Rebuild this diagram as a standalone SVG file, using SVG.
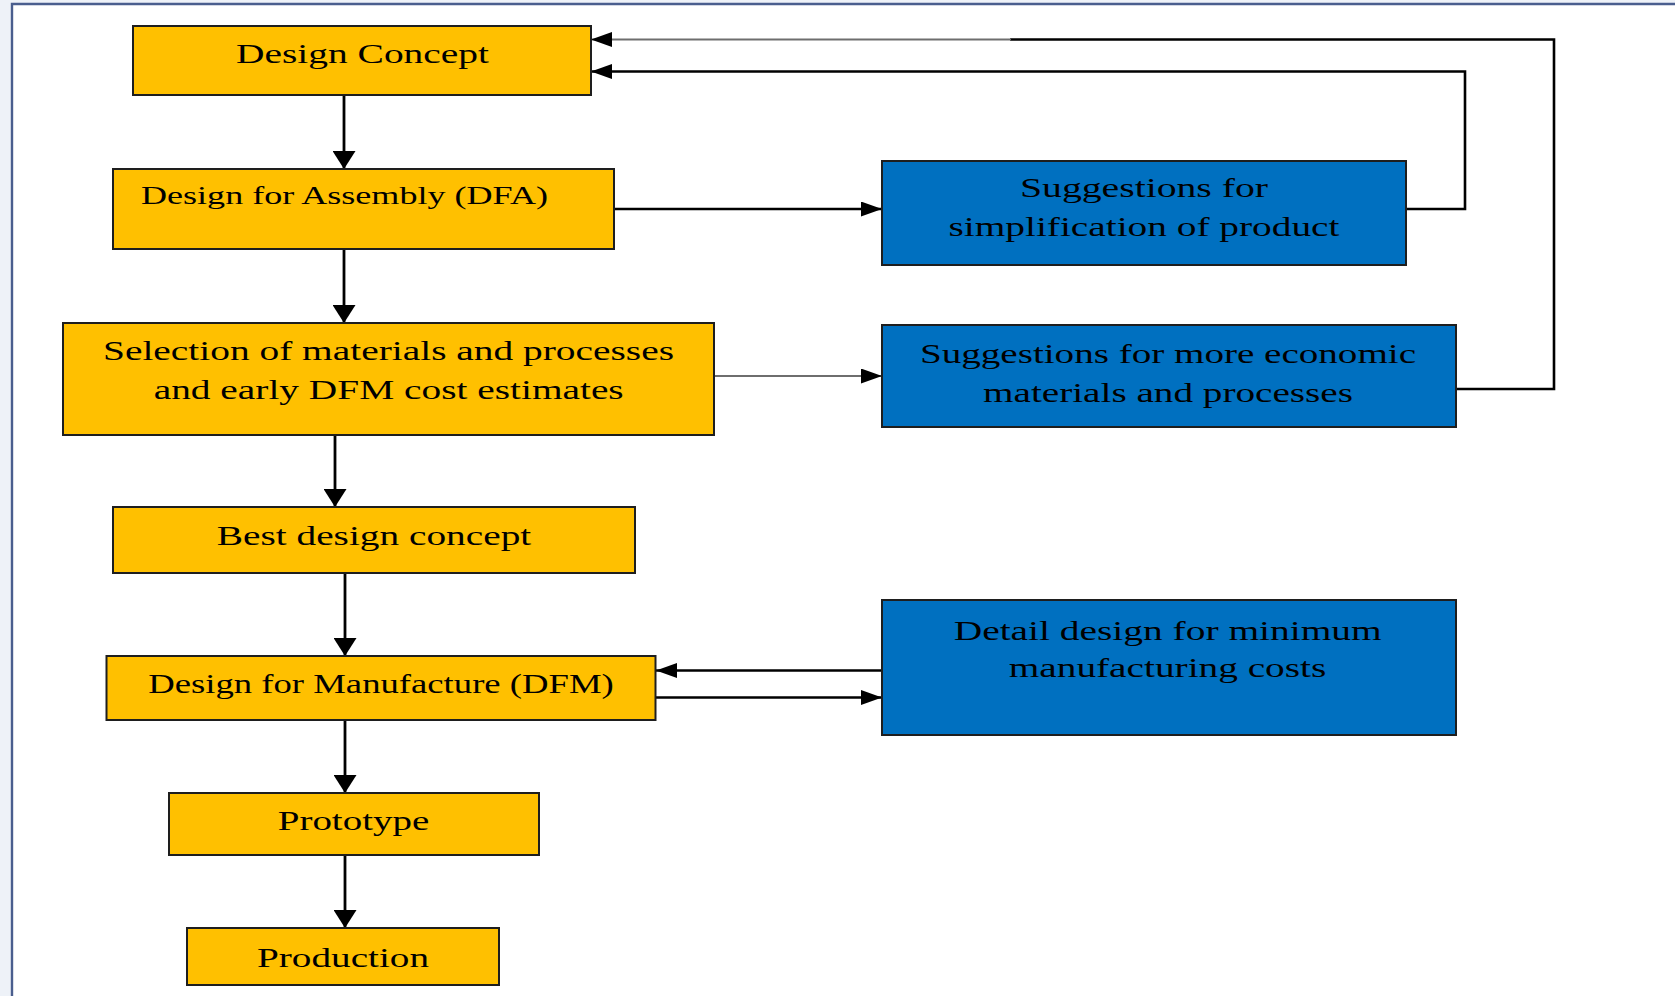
<svg xmlns="http://www.w3.org/2000/svg" width="1675" height="996" viewBox="0 0 1675 996">
<defs>
<style>
.frame{fill:#eef2f8}
.y{fill:#FFC000;stroke:#1e1e1e;stroke-width:2}
.b{fill:#0070C0;stroke:#1e1e1e;stroke-width:2}
.t{font-family:"Liberation Serif","Times New Roman",serif;font-size:28px;fill:#000;text-anchor:middle}
.cv{fill:none;stroke:#000;stroke-width:2.8}
.ch{fill:none;stroke:#000;stroke-width:2.6}
.cg{fill:none;stroke:#6e6e6e;stroke-width:2.2}
</style>
<marker id="ah" markerUnits="userSpaceOnUse" markerWidth="21" markerHeight="15" refX="21" refY="7.5" orient="auto"><path d="M0,0 L21,7.5 L0,15 Z" fill="#000"/></marker>
<marker id="av" markerUnits="userSpaceOnUse" markerWidth="18" markerHeight="23" refX="18" refY="11.5" orient="auto"><path d="M0,0 L18,11.5 L0,23 Z" fill="#000"/></marker>
</defs>
<rect width="1675" height="996" fill="#fff"/>
<rect class="frame" x="0" y="0" width="11" height="996"/>
<rect class="frame" x="0" y="0" width="1675" height="3"/>
<path d="M12,996 V4 H1675" fill="none" stroke="#4a5e8e" stroke-width="2.4"/>

<g id="connectors">
<path class="cv" d="M344,95 V169" marker-end="url(#av)"/>
<path class="cv" d="M344,249 V323" marker-end="url(#av)"/>
<path class="cv" d="M335,435 V507" marker-end="url(#av)"/>
<path class="cv" d="M345,573 V656" marker-end="url(#av)"/>
<path class="cv" d="M345,720 V793" marker-end="url(#av)"/>
<path class="cv" d="M345,855 V928" marker-end="url(#av)"/>
<path class="ch" d="M614,209 H882" marker-end="url(#ah)"/>
<path class="cg" d="M714,376 H882" marker-end="url(#ah)"/>
<path class="ch" d="M1406,209 H1465 V71.5 H591" marker-end="url(#ah)"/>
<path class="ch" d="M1456,389 H1554 V39.5 H1010"/>
<path class="cg" d="M1011,39.5 H591" marker-end="url(#ah)"/>
<path class="ch" d="M882,670.5 H656" marker-end="url(#ah)"/>
<path class="ch" d="M656,697.5 H882" marker-end="url(#ah)"/>
</g>

<g id="design-concept">
<rect class="y" x="133" y="26" width="458" height="69"/>
<text class="t" x="362.5" y="63" textLength="253" lengthAdjust="spacingAndGlyphs">Design Concept</text>
</g>
<g id="dfa">
<rect class="y" x="113" y="169" width="501" height="80"/>
<text class="t" x="344.5" y="203.5" style="font-size:25.5px" textLength="407" lengthAdjust="spacingAndGlyphs">Design for Assembly (DFA)</text>
</g>
<g id="selection">
<rect class="y" x="63" y="323" width="651" height="112"/>
<text class="t" x="388.5" y="360" textLength="571" lengthAdjust="spacingAndGlyphs">Selection of materials and processes</text>
<text class="t" x="388.7" y="399" textLength="470" lengthAdjust="spacingAndGlyphs">and early DFM cost estimates</text>
</g>
<g id="best-design">
<rect class="y" x="113" y="507" width="522" height="66"/>
<text class="t" x="374" y="545" textLength="314.5" lengthAdjust="spacingAndGlyphs">Best design concept</text>
</g>
<g id="dfm">
<rect class="y" x="106.5" y="656" width="549" height="64"/>
<text class="t" x="381" y="692.7" style="font-size:26.5px" textLength="465.6" lengthAdjust="spacingAndGlyphs">Design for Manufacture (DFM)</text>
</g>
<g id="prototype">
<rect class="y" x="169" y="793" width="370" height="62"/>
<text class="t" x="353.5" y="830" textLength="151.5" lengthAdjust="spacingAndGlyphs">Prototype</text>
</g>
<g id="production">
<rect class="y" x="187" y="928" width="312" height="57"/>
<text class="t" x="343" y="966.7" textLength="172" lengthAdjust="spacingAndGlyphs">Production</text>
</g>
<g id="simplification">
<rect class="b" x="882" y="161" width="524" height="104"/>
<text class="t" x="1144" y="196.7" textLength="248" lengthAdjust="spacingAndGlyphs">Suggestions for</text>
<text class="t" x="1144" y="236" textLength="391" lengthAdjust="spacingAndGlyphs">simplification of product</text>
</g>
<g id="economic">
<rect class="b" x="882" y="325" width="574" height="102"/>
<text class="t" x="1168" y="362.7" textLength="496" lengthAdjust="spacingAndGlyphs">Suggestions for more economic</text>
<text class="t" x="1168" y="401.7" textLength="370" lengthAdjust="spacingAndGlyphs">materials and processes</text>
</g>
<g id="detail-design">
<rect class="b" x="882" y="600" width="574" height="135"/>
<text class="t" x="1167.7" y="640" textLength="428" lengthAdjust="spacingAndGlyphs">Detail design for minimum</text>
<text class="t" x="1167.5" y="677.3" textLength="317.5" lengthAdjust="spacingAndGlyphs">manufacturing costs</text>
</g>
</svg>
